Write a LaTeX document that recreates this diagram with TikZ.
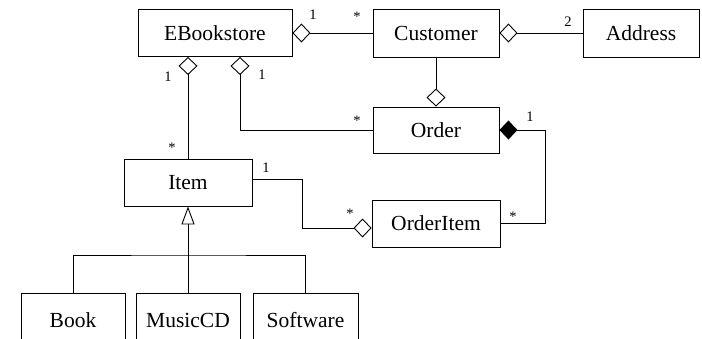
\documentclass[tikz,border=0pt]{standalone}
\usepackage{fontspec}
\setmainfont{Liberation Serif}
\usetikzlibrary{arrows.meta}

\begin{document}
\begin{tikzpicture}[x=1pt,y=-1pt,line width=0.9pt,
  class/.style={draw,inner sep=0pt,minimum height=47pt,font=\fontsize{21.5}{26}\selectfont},
  mult/.style={inner sep=0pt,font=\fontsize{14.5}{17}\selectfont},
  agg/.style={{Diamond[open,length=18pt,width=19pt]}-},
  comp/.style={{Diamond[length=18pt,width=19pt]}-},
  gen/.style={{Triangle[open,length=18pt,width=13pt]}-}]
  \useasboundingbox (0,0) rectangle (702,338);
  \clip (0,0) rectangle (702,338);
  % classes
  \node[class,minimum width=154pt] (eb) at (215,33) {EBookstore};
  \node[class,minimum width=126pt,minimum height=48pt] (cust) at (436,33) {Customer};
  \node[class,minimum width=116pt,minimum height=48pt] (addr) at (641,33) {Address};
  \node[class,minimum width=126pt,minimum height=46pt] (order) at (436,130) {Order};
  \node[class,minimum width=128pt] (oitem) at (436,223.5) {OrderItem};
  \node[class,minimum width=128pt] (item) at (188,182.5) {Item};
  \node[class,minimum width=104pt,minimum height=54pt] (book) at (73,320) {Book};
  \node[class,minimum width=104pt,minimum height=54pt] (mcd) at (188,320) {MusicCD};
  \node[class,minimum width=105pt,minimum height=54pt] (soft) at (305.5,320) {Software};

  % associations
  \draw[agg] (eb.east) -- (cust.west);
  \draw[agg] (cust.east) -- (addr.west);
  \draw[agg] (order.north) -- (cust.south);
  \draw[agg] (eb.south -| item.north) -- (item.north);
  \draw[agg] ([xshift=25pt]eb.south) |- (order.west);
  \draw[comp] (order.east) -- ++(46,0) |- (oitem.east);
  \draw[agg] ([yshift=-4.5pt]oitem.west) -- ++(-69,0) |- ([yshift=3.5pt]item.east);

  % inheritance
  \coordinate (bus) at (188,255);
  \draw[gen] (item.south) -- (bus);
  \draw (book.north) |- (bus) -| (soft.north);
  \draw (mcd.north) -- (bus);

  % multiplicities
  \node[mult] (m1) at (313,15) {1};
  \node[mult] (m2) at (357,17) {*};
  \node[mult] (m3) at (568,22) {2};
  \node[mult] (m4) at (168,77) {1};
  \node[mult] (m5) at (262,75) {1};
  \node[mult] (m6) at (172,148) {*};
  \node[mult] (m7) at (357,121) {*};
  \node[mult] (m8) at (530,117) {1};
  \node[mult] (m9) at (513,217) {*};
  \node[mult] (m10) at (266,168) {1};
  \node[mult] (m11) at (350,214) {*};
\end{tikzpicture}
\end{document}
